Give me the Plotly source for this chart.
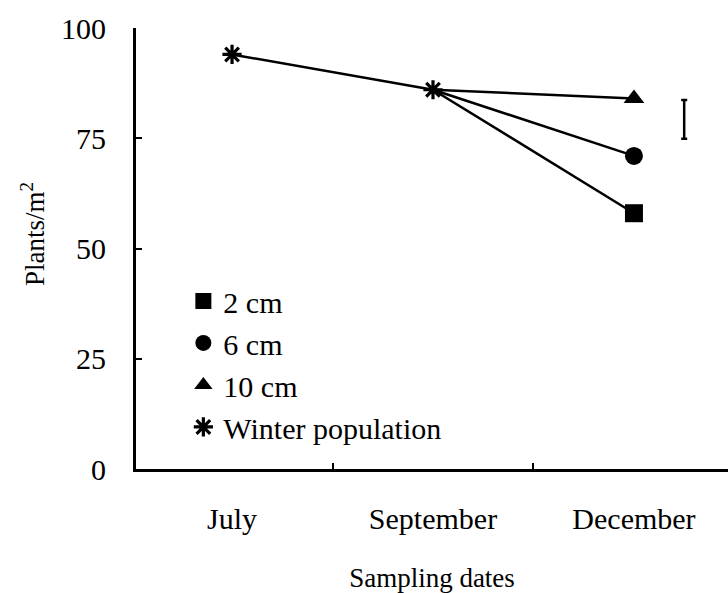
import plotly.graph_objects as go

# Sampling dates and plant densities (plants per m^2)
months = ["July", "September", "December"]
month_pos = [0, 1, 2]

# Population before the winter sampling (July, September)
winter_population = [94, 86]

# December densities for each sowing depth
depths = ["2 cm", "6 cm", "10 cm"]
december_values = [58, 71, 84]
depth_symbols = ["square", "circle", "triangle-up"]

# LSD bar shown to the right of the December points
lsd_center = 79.3
lsd_half = 4.4
lsd_pos = 2.25

FONT = "Liberation Serif, Times New Roman, serif"
INK = "black"

fig = go.Figure()

# Lines from September to each December density
for val in december_values:
    fig.add_trace(go.Scatter(
        x=[month_pos[1], month_pos[2]], y=[winter_population[1], val],
        mode="lines", line=dict(color=INK, width=2.5),
        showlegend=False, hoverinfo="skip",
    ))

# Winter population line July -> September
fig.add_trace(go.Scatter(
    x=month_pos[:2], y=winter_population, mode="lines",
    line=dict(color=INK, width=2.5), showlegend=False, hoverinfo="skip",
))

# Depth markers (December)
for name, val, sym in zip(depths, december_values, depth_symbols):
    fig.add_trace(go.Scatter(
        x=[month_pos[2]], y=[val], mode="markers", name=name,
        marker=dict(symbol=sym, size=18, color=INK, line=dict(width=0)),
    ))

# Winter population markers
fig.add_trace(go.Scatter(
    x=month_pos[:2], y=winter_population, mode="markers",
    name="Winter population",
    marker=dict(symbol="asterisk-open", size=16, color=INK,
                line=dict(width=3.2, color=INK)),
))

# LSD bar
fig.add_trace(go.Scatter(
    x=[lsd_pos], y=[lsd_center], mode="markers",
    marker=dict(size=1, color="rgba(0,0,0,0)"),
    error_y=dict(type="data", array=[lsd_half], color=INK,
                 thickness=2.5, width=3),
    showlegend=False, hoverinfo="skip",
))

# Y-axis title, placed a little above the axis centre
fig.add_annotation(
    text="Plants/m<sup>2</sup>", textangle=-90,
    xref="paper", yref="paper", x=-0.174, y=0.533,
    xanchor="center", yanchor="middle", showarrow=False,
    font=dict(size=27, family=FONT, color=INK),
)

fig.update_layout(
    width=728, height=593,
    margin=dict(l=136, r=0, t=28, b=124),
    paper_bgcolor="white", plot_bgcolor="white",
    font=dict(family=FONT, color=INK, size=30),
    showlegend=True,
    legend=dict(
        x=0.08, y=0.44, xanchor="left", yanchor="top",
        bgcolor="rgba(0,0,0,0)", font=dict(size=30, family=FONT),
        itemsizing="trace",
    ),
    xaxis=dict(
        range=[-0.478, 2.468],
        tickvals=month_pos, ticktext=months, ticks="",
        minor=dict(tickvals=[0.5, 1.5], ticks="inside", ticklen=6,
                   tickwidth=2, tickcolor=INK, showgrid=False),
        showline=True, linecolor=INK, linewidth=3,
        showgrid=False, zeroline=False,
        ticklabelstandoff=21,
        tickfont=dict(size=30),
        title=dict(text="Sampling dates", font=dict(size=27), standoff=37),
    ),
    yaxis=dict(
        range=[0, 100], tickvals=[0, 25, 50, 75, 100],
        ticks="inside", ticklen=6, tickwidth=2, tickcolor=INK,
        showline=True, linecolor=INK, linewidth=3,
        showgrid=False, zeroline=False,
        ticklabelstandoff=21,
        tickfont=dict(size=30),
    ),
)

fig.write_html("out.html")
